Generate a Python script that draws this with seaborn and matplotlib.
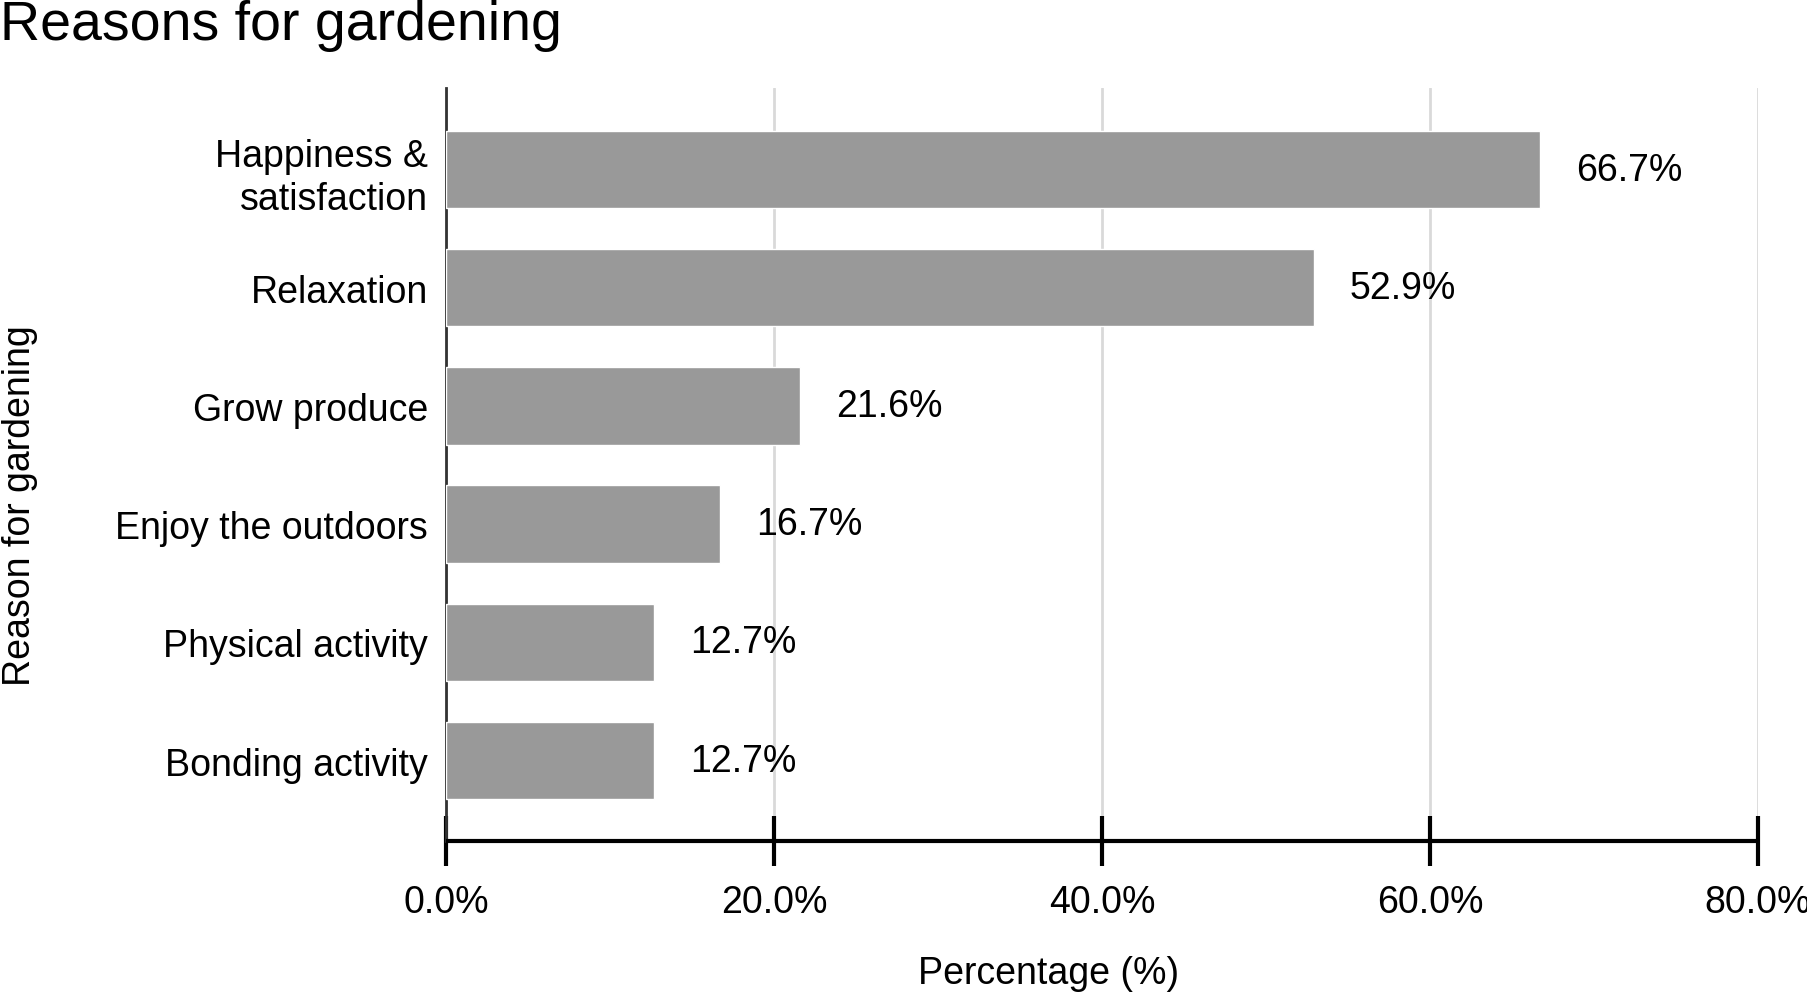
import numpy as np
import matplotlib
matplotlib.use("Agg")
import matplotlib.pyplot as plt
import seaborn as sns
import pandas as pd

# Veriler
reasons = ["Happiness &\nsatisfaction", "Relaxation", "Grow produce",
           "Enjoy the outdoors", "Physical activity", "Bonding activity"]
percent = [66.7, 52.9, 21.6, 16.7, 12.7, 12.7]
xticks = [0, 20, 40, 60, 80]

df = pd.DataFrame({"reason": reasons, "percent": percent})

sns.set_theme(style="white")
plt.rcParams['font.family'] = ['Liberation Sans', 'DejaVu Sans']
plt.rcParams['text.color'] = 'black'
plt.rcParams['axes.labelcolor'] = 'black'
plt.rcParams['xtick.color'] = 'black'
plt.rcParams['ytick.color'] = 'black'

fig = plt.figure(figsize=(18.08, 9.95), dpi=100)
ax = fig.add_axes([446 / 1808, 1 - 842 / 995, (1758 - 446) / 1808, (842 - 89) / 995])

sns.barplot(data=df, x="percent", y="reason", color="#999999", saturation=1,
            width=0.655, ax=ax, zorder=3)

ax.set_xlim(0, 80)
ax.set_ylim(5.68, -0.69)
ax.set_xticks(xticks)
ax.set_xticklabels([f"{t:.1f}%" for t in xticks], fontsize=27)
ax.tick_params(axis="x", bottom=True, direction="inout", length=36, width=3, pad=13, colors="black")
ax.tick_params(axis="y", left=False, length=0, pad=13, labelsize=27)
for lab in ax.get_yticklabels():
    lab.set_multialignment("right")
    lab.set_linespacing(1.25)

ax.grid(axis="x", color="#d9d9d9", linewidth=2, zorder=0)
ax.set_axisbelow(True)
for s in ["top", "right"]:
    ax.spines[s].set_visible(False)
ax.spines["bottom"].set_color("black")
ax.spines["bottom"].set_linewidth(3)
ax.spines["bottom"].set_capstyle("butt")
ax.spines["left"].set_color("#333333")
ax.spines["left"].set_linewidth(2)

# Değer etiketleri
for i, v in enumerate(percent):
    ax.text(v + 2.2, i, f"{v:.1f}%", va="center", ha="left", fontsize=27, color="black")

ax.set_xlabel("Percentage (%)", fontsize=27, color="black")
ax.set_ylabel("Reason for gardening", fontsize=27, color="black")
ax.xaxis.set_label_coords((1049 - 446) / (1758 - 446), -(974 - 842) / (842 - 89))
ax.yaxis.set_label_coords(-(446 - 20) / (1758 - 446), (842 - 506) / (842 - 89))
ax.xaxis.label.set_va("center")
ax.yaxis.label.set_va("center")

fig.text(0.0, 1 - 40 / 995, "Reasons for gardening", fontsize=40, ha="left", va="baseline")

fig.savefig("out.png", dpi=100)
